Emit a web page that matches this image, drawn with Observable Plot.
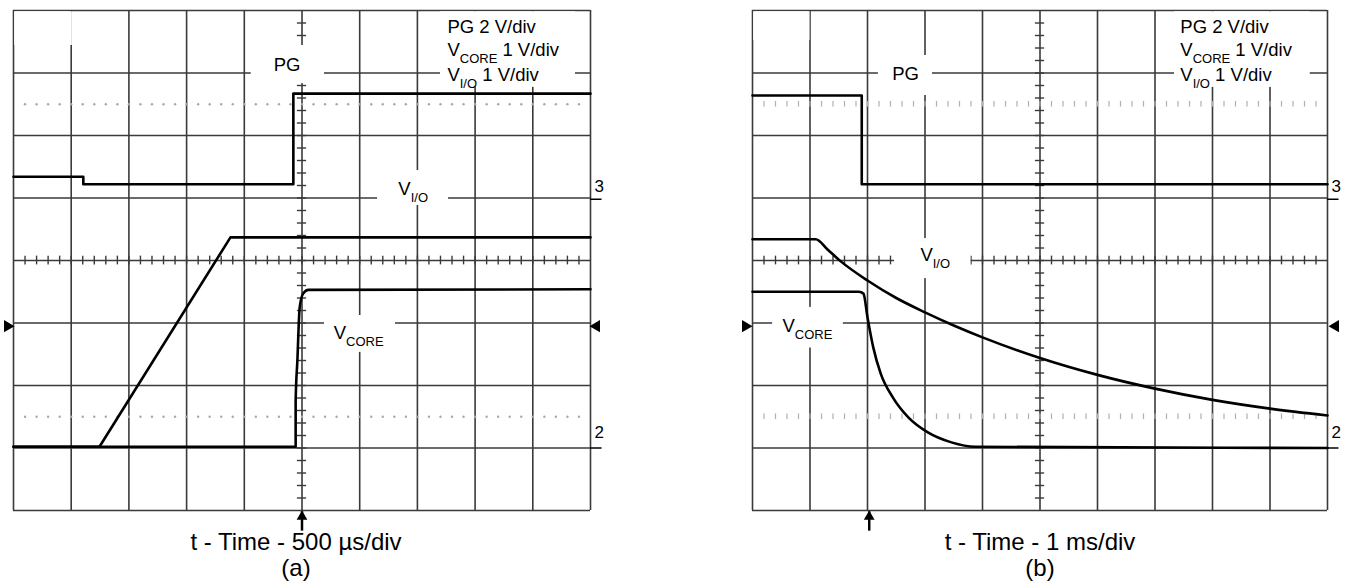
<!DOCTYPE html>
<html><head><meta charset="utf-8">
<script src="https://cdn.jsdelivr.net/npm/d3@7"></script>
<script src="https://cdn.jsdelivr.net/npm/@observablehq/plot@0.6"></script>
<style>
body{margin:0;background:#fff;width:1346px;height:586px;overflow:hidden;position:relative;font-family:"Liberation Sans",Arial,sans-serif}
#pa{position:absolute;left:0;top:0}
#pb{position:absolute;left:700px;top:0}
.cap{position:absolute;font-size:24px;line-height:24px;text-align:center;width:400px;color:#000;white-space:nowrap}
</style></head><body>
<div id="pa"></div><div id="pb"></div>
<div class="cap" style="left:96px;top:530px">t - Time - 500 µs/div</div>
<div class="cap" style="left:96px;top:556px">(a)</div>
<div class="cap" style="left:840px;top:530px">t - Time - 1 ms/div</div>
<div class="cap" style="left:840px;top:556px">(b)</div>
<script>
// ---- data (units: scope divisions; x = time div 0..10, y = vertical div 0..8) ----
const gridX = [0,1,2,3,4,5,6,7,8,9,10];
const gridY = [0,1,2,3,4,5,6,7,8];
const minorX = d3.range(0.2, 10, 0.2);
const minorY = d3.range(0.2, 8, 0.2);
const dottedLevels = [1.5, 6.5];

// Panel (a): power-up, 500 us/div
const pgA_t    = [0, 1.21, 1.21, 4.85, 4.85, 10];
const pgA_v    = [5.34, 5.34, 5.22, 5.22, 6.67, 6.67];
const vioA_t   = [0, 1.49, 3.76, 10];
const vioA_v   = [1.02, 1.02, 4.37, 4.37];
const vcoreA_t = [0, 4.89, 4.89, 4.92, 4.96, 5.02, 5.11, 10];
const vcoreA_v = [1.02, 1.02, 1.75, 2.4, 3.25, 3.47, 3.53, 3.54];

// Panel (b): power-down, 1 ms/div
const pgB_t    = [0, 1.9, 1.9, 10];
const pgB_v    = [6.64, 6.64, 5.22, 5.22];
const vioB_t   = [0, 1.1, 1.3, 1.53, 2.0, 2.5, 3.0, 3.5, 4.0, 5.0, 6.0, 7.0, 8.0, 9.0, 10];
const vioB_v   = [4.34, 4.34, 4.18, 3.99, 3.68, 3.40, 3.17, 2.96, 2.77, 2.44, 2.17, 1.95, 1.77, 1.63, 1.52];
const vcoreB_t = [0, 1.85, 1.93, 2.0, 2.1, 2.23, 2.44, 2.71, 3.05, 3.46, 3.87, 10];
const vcoreB_v = [3.5, 3.5, 3.47, 3.09, 2.61, 2.19, 1.81, 1.49, 1.25, 1.09, 1.02, 1.0];

const triggerA = 5.0, triggerB = 2.03;

// ---- annotations (label text; anchor in division units) ----
const labelsA = [
  {x: 4.51, y: 7.04, parts: [{t: "PG"}]},
  {x: 6.67, y: 5.05, parts: [{t: "V"}, {t: "I/O", sub: true}]},
  {x: 5.55, y: 2.74, parts: [{t: "V"}, {t: "CORE", sub: true}]},
  {x: 7.52, y: 7.64, parts: [{t: "PG 2 V/div"}]},
  {x: 7.52, y: 7.27, parts: [{t: "V"}, {t: "CORE", sub: true}, {t: " 1 V/div"}]},
  {x: 7.52, y: 6.88, parts: [{t: "V"}, {t: "I/O", sub: true}, {t: " 1 V/div"}]}
];
const boxesA = [
  {x1: 0.02, x2: 1.02, y1: 7.44, y2: 7.98},
  {x1: 4.12, x2: 5.39, y1: 6.83, y2: 7.44},
  {x1: 6.31, x2: 7.54, y1: 4.88, y2: 5.44},
  {x1: 5.39, x2: 6.62, y1: 2.53, y2: 3.12},
  {x1: 7.40, x2: 9.74, y1: 6.77, y2: 7.98}
];
const labelsB = [
  {x: 2.43, y: 6.89, parts: [{t: "PG"}]},
  {x: 2.92, y: 3.99, parts: [{t: "V"}, {t: "I/O", sub: true}]},
  {x: 0.52, y: 2.85, parts: [{t: "V"}, {t: "CORE", sub: true}]},
  {x: 7.44, y: 7.64, parts: [{t: "PG 2 V/div"}]},
  {x: 7.44, y: 7.27, parts: [{t: "V"}, {t: "CORE", sub: true}, {t: " 1 V/div"}]},
  {x: 7.44, y: 6.88, parts: [{t: "V"}, {t: "I/O", sub: true}, {t: " 1 V/div"}]}
];
const boxesB = [
  {x1: 0.02, x2: 1.0, y1: 7.52, y2: 7.98},
  {x1: 2.19, x2: 3.13, y1: 6.64, y2: 7.28},
  {x1: 2.47, x2: 3.80, y1: 3.71, y2: 4.35},
  {x1: 0.35, x2: 1.58, y1: 2.60, y2: 3.25},
  {x1: 7.34, x2: 9.70, y1: 6.77, y2: 7.98}
];
const chMarkers = [{ch: "3", y: 5.18, ref: 4.98}, {ch: "2", y: 1.25, ref: 1.0}];

// ---- helpers ----
const FONT = "Liberation Sans, Arial, sans-serif";
const MAIN = 18.5, SUB = 13;
const ctx = document.createElement("canvas").getContext("2d");
function measure(t, size) { ctx.font = `${size}px "Liberation Sans"`; return ctx.measureText(t).width; }
const zip = (t, v) => t.map((x, i) => ({t: x, v: v[i]}));

function labelMarks(specs) {
  const marks = [];
  for (const s of specs) {
    let dx = 0;
    for (const p of s.parts) {
      const size = p.sub ? SUB : MAIN;
      const lead = p.t.match(/^\s*/)[0];
      const txt = p.t.trim();
      dx += measure(lead, size);
      marks.push(Plot.text([s], {x: "x", y: "y", text: () => txt, fontSize: size, fontFamily: FONT,
        dx, dy: p.sub ? 7 : 0, textAnchor: "start", lineAnchor: "bottom", fill: "black"}));
      dx += measure(txt, size);
    }
  }
  return marks;
}

function panel({width, ml, mr, pg, vio, vcore, vioCurve, boxes, labels, trig, dash, lx, rx}) {
  const grid = "#3a3a3a";
  const trace = {stroke: "black", strokeWidth: 2.6, strokeLinejoin: "round"};
  return Plot.plot({
    width, height: 540, marginLeft: ml, marginRight: mr, marginTop: 10, marginBottom: 30,
    x: {domain: [0, 10], axis: null},
    y: {domain: [0, 8], axis: null},
    style: {fontFamily: FONT, background: "white", overflow: "visible"},
    marks: [
      Plot.ruleX(gridX, {stroke: grid, strokeWidth: 1.6}),
      Plot.ruleY(gridY, {stroke: grid, strokeWidth: 1.6}),
      Plot.ruleX(minorX, {y1: 3.93, y2: 4.07, stroke: grid, strokeWidth: 1.4}),
      Plot.ruleY(minorY, {x1: 4.92, x2: 5.08, stroke: grid, strokeWidth: 1.4}),
      dash
        ? dottedLevels.map(lv => Plot.ruleX(minorX, {y1: lv - 0.045, y2: lv + 0.045, stroke: "#b0b0b0", strokeWidth: 1.2}))
        : dottedLevels.map(lv => Plot.dot(minorX, {x: d => d, y: () => lv, r: 1.2, fill: "#a8a8a8", stroke: null})),
      Plot.rect(boxes, {x1: "x1", x2: "x2", y1: "y1", y2: "y2", fill: "white"}),
      Plot.line(zip(pg.t, pg.v), {x: "t", y: "v", ...trace}),
      Plot.line(zip(vio.t, vio.v), {x: "t", y: "v", ...trace, curve: vioCurve}),
      Plot.line(zip(vcore.t, vcore.v), {x: "t", y: "v", ...trace, curve: "monotone-x"}),
      labelMarks(labels),
      Plot.dot([0], {x: d => d, y: () => 2.95, symbol: "triangle", rotate: 90, r: 4.5, fill: "black", stroke: null, dx: lx}),
      Plot.dot([10], {x: d => d, y: () => 2.95, symbol: "triangle", rotate: -90, r: 4.5, fill: "black", stroke: null, dx: rx}),
      Plot.text(chMarkers, {x: () => 10, y: "y", text: "ch", dx: 4, fontSize: 17, fontFamily: FONT, textAnchor: "start", lineAnchor: "middle", fill: "black"}),
      Plot.ruleY(chMarkers, {y: "ref", x1: 10, x2: 10.2, stroke: "black", strokeWidth: 1.5}),
      Plot.ruleX([trig], {y1: -0.33, y2: -0.02, stroke: "black", strokeWidth: 2.5}),
      Plot.dot([trig], {x: d => d, y: () => -0.1, symbol: "triangle", r: 4, fill: "black", stroke: null})
    ]
  });
}

document.getElementById("pa").append(panel({
  width: 640, ml: 13, mr: 50,
  pg: {t: pgA_t, v: pgA_v}, vio: {t: vioA_t, v: vioA_v}, vcore: {t: vcoreA_t, v: vcoreA_v}, vioCurve: "linear",
  boxes: boxesA, labels: labelsA, trig: triggerA, dash: false, lx: -6, rx: 6
}));
document.getElementById("pb").append(panel({
  width: 646, ml: 52, mr: 19,
  pg: {t: pgB_t, v: pgB_v}, vio: {t: vioB_t, v: vioB_v}, vcore: {t: vcoreB_t, v: vcoreB_v}, vioCurve: "monotone-x",
  boxes: boxesB, labels: labelsB, trig: triggerB, dash: true, lx: -7, rx: 8
}));
</script>
</body></html>
